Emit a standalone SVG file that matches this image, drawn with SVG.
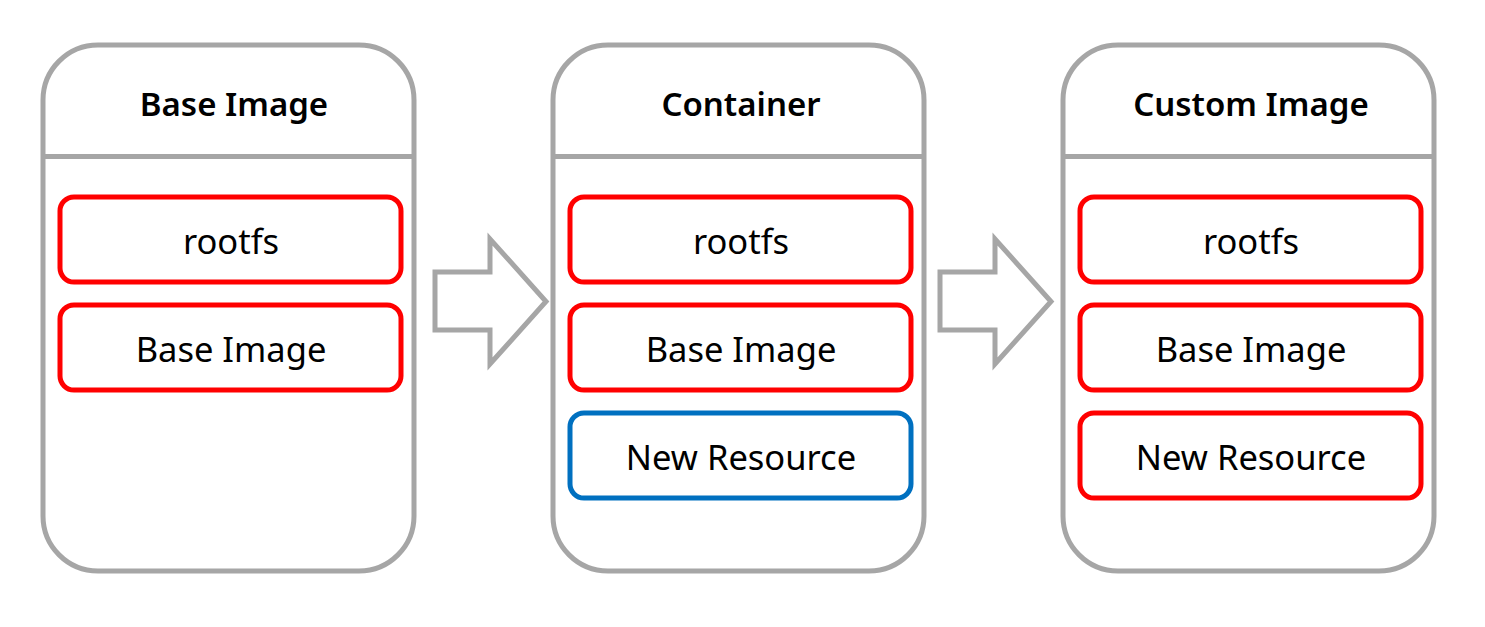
<svg xmlns="http://www.w3.org/2000/svg" width="1485" height="627" viewBox="0 0 1485 627">
<style>
.panel{fill:#fff;stroke:#a6a6a6;stroke-width:5}
.div{stroke:#a6a6a6;stroke-width:5}
.red{fill:#fff;stroke:#ff0000;stroke-width:5}
.blue{fill:#fff;stroke:#0070c0;stroke-width:5}
.title{font-family:"Noto Sans","Open Sans",sans-serif;font-weight:600;font-size:33px;fill:#000;text-anchor:middle}
.lbl{font-family:"Noto Sans","Open Sans",sans-serif;font-size:34.5px;fill:#000;text-anchor:middle}
.arrow{fill:#fff;stroke:#a6a6a6;stroke-width:5}
</style>
<rect width="1485" height="627" fill="#fff"/>
<g id="base-image">
<rect class="panel" x="43" y="45" width="371" height="526" rx="55"/>
<line class="div" x1="43" y1="156.5" x2="414" y2="156.5"/>
<text class="title" x="234" y="116">Base Image</text>
<rect class="red" x="60" y="197" width="341" height="85" rx="14"/>
<text class="lbl" x="231" y="254">rootfs</text>
<rect class="red" x="60" y="305" width="341" height="85" rx="14"/>
<text class="lbl" x="231" y="362">Base Image</text>
</g>
<g id="container">
<rect class="panel" x="553" y="45" width="371" height="526" rx="55"/>
<line class="div" x1="553" y1="156.5" x2="924" y2="156.5"/>
<text class="title" x="741" y="116">Container</text>
<rect class="red" x="570" y="197" width="341" height="85" rx="14"/>
<text class="lbl" x="741" y="254">rootfs</text>
<rect class="red" x="570" y="305" width="341" height="85" rx="14"/>
<text class="lbl" x="741" y="362">Base Image</text>
<rect class="blue" x="570" y="413" width="341" height="85" rx="14"/>
<text class="lbl" x="741" y="470">New Resource</text>
</g>
<g id="custom-image">
<rect class="panel" x="1063" y="45" width="371" height="526" rx="55"/>
<line class="div" x1="1063" y1="156.5" x2="1434" y2="156.5"/>
<text class="title" x="1251" y="116">Custom Image</text>
<rect class="red" x="1080" y="197" width="341" height="85" rx="14"/>
<text class="lbl" x="1251" y="254">rootfs</text>
<rect class="red" x="1080" y="305" width="341" height="85" rx="14"/>
<text class="lbl" x="1251" y="362">Base Image</text>
<rect class="red" x="1080" y="413" width="341" height="85" rx="14"/>
<text class="lbl" x="1251" y="470">New Resource</text>
</g>
<g id="connectors">
<polygon class="arrow" points="435,272 490,272 490,239 546,301.5 490,364 490,330 435,330"/>
<polygon class="arrow" points="940,272 995,272 995,239 1051,301.5 995,364 995,330 940,330"/>
</g>
</svg>
